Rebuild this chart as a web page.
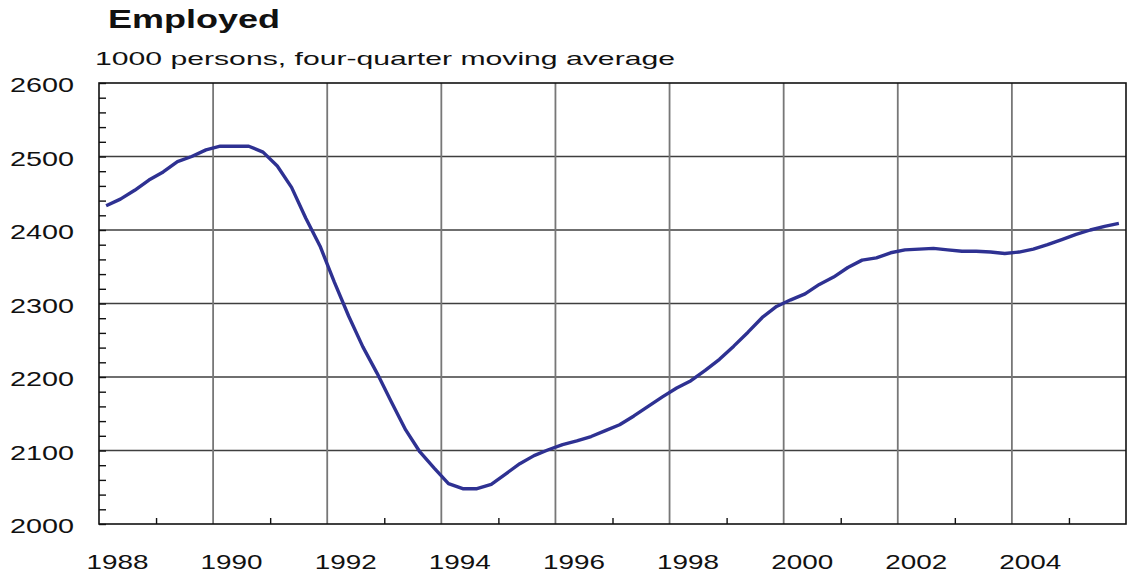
<!DOCTYPE html>
<html>
<head>
<meta charset="utf-8">
<script src="https://cdn.jsdelivr.net/npm/d3@7"></script>
<style>
  body { margin: 0; background: #fff; }
  text { font-family: "Liberation Sans", Arial, sans-serif; fill: #111; }
</style>
</head>
<body>
<script>
const width = 1130;
const height = 578;

// quarterly data, four-quarter moving average, 1988Q1 - 2005Q4
const startYear = 1988;
const employed = [
  2433, 2442, 2454, 2468, 2479, 2493, 2500, 2509,
  2514, 2514, 2514, 2506, 2487, 2458, 2416, 2378,
  2329, 2283, 2241, 2205, 2166, 2128, 2098, 2076,
  2055, 2048, 2048, 2054, 2068, 2082, 2093, 2101,
  2108, 2113, 2119, 2127, 2135, 2147, 2160, 2173,
  2185, 2195, 2209, 2224, 2242, 2261, 2281, 2296,
  2305, 2313, 2326, 2336, 2349, 2359, 2362, 2369,
  2373, 2374, 2375, 2373, 2371, 2371, 2370, 2368,
  2370, 2374, 2380, 2387, 2394, 2400, 2405, 2409
];
const yearTicks = [1988, 1990, 1992, 1994, 1996, 1998, 2000, 2002, 2004];
const valueTicks = [2000, 2100, 2200, 2300, 2400, 2500, 2600];

const title = "Employed";
const subtitle = "1000 persons, four-quarter moving average";

let margin = { top: 83, right: 4, bottom: 54, left: 99 };

let svg = d3
  .select("body")
  .append("svg")
  .attr("width", width)
  .attr("height", height);

let xScale = d3
  .scaleLinear()
  .domain([1988, 2006])
  .range([margin.left, width - margin.right]);

let yScale = d3
  .scaleLinear()
  .domain([2000, 2600])
  .range([height - margin.bottom, margin.top]);

// horizontal grid
svg
  .append("g")
  .selectAll("line")
  .data(valueTicks.slice(1, -1))
  .join("line")
  .attr("x1", xScale(1988))
  .attr("x2", xScale(2006))
  .attr("y1", (d) => yScale(d))
  .attr("y2", (d) => yScale(d))
  .attr("stroke", "#3f3f3f")
  .attr("stroke-width", 1.5);

// vertical grid
svg
  .append("g")
  .selectAll("line")
  .data(yearTicks.slice(1))
  .join("line")
  .attr("x1", (d) => xScale(d))
  .attr("x2", (d) => xScale(d))
  .attr("y1", yScale(2000))
  .attr("y2", yScale(2600))
  .attr("stroke", "#777")
  .attr("stroke-width", 1.8);

// minor ticks on left axis, every 20
let leftAxis = d3
  .axisRight(yScale)
  .tickValues(d3.range(2000, 2601, 20))
  .tickSize(7)
  .tickFormat("");

svg
  .append("g")
  .attr("transform", `translate(${margin.left}, 0)`)
  .call(leftAxis)
  .call((g) => g.select(".domain").remove())
  .call((g) => g.selectAll("line").attr("stroke", "#111").attr("stroke-width", 1.4));

// minor ticks on bottom axis, odd years
let bottomAxis = d3
  .axisTop(xScale)
  .tickValues(d3.range(1989, 2006, 2))
  .tickSize(6)
  .tickFormat("");

svg
  .append("g")
  .attr("transform", `translate(0, ${yScale(2000)})`)
  .call(bottomAxis)
  .call((g) => g.select(".domain").remove())
  .call((g) => g.selectAll("line").attr("stroke", "#111").attr("stroke-width", 1.4));

// frame
svg
  .append("rect")
  .attr("x", xScale(1988))
  .attr("y", yScale(2600))
  .attr("width", xScale(2006) - xScale(1988))
  .attr("height", yScale(2000) - yScale(2600))
  .attr("fill", "none")
  .attr("stroke", "#111")
  .attr("stroke-width", 1.6);

// the series
let line = d3
  .line()
  .x((d, i) => xScale(startYear + (i + 0.5) / 4))
  .y((d) => yScale(d));

svg
  .append("path")
  .datum(employed)
  .attr("d", line)
  .attr("fill", "none")
  .attr("stroke", "#2e3192")
  .attr("stroke-width", 3.4)
  .attr("stroke-linejoin", "round");

// y labels
svg
  .append("g")
  .selectAll("text")
  .data(valueTicks)
  .join("text")
  .attr("x", 74)
  .attr("y", (d) => yScale(d) + 9)
  .attr("text-anchor", "end")
  .attr("font-size", 21)
  .attr("textLength", 64)
  .attr("lengthAdjust", "spacingAndGlyphs")
  .text((d) => d);

// x labels
svg
  .append("g")
  .selectAll("text")
  .data(yearTicks)
  .join("text")
  .attr("x", (d) => xScale(d) + 18.5)
  .attr("y", 569)
  .attr("text-anchor", "middle")
  .attr("font-size", 21)
  .attr("textLength", 62)
  .attr("lengthAdjust", "spacingAndGlyphs")
  .text((d) => d);

// titles
svg
  .append("text")
  .attr("x", 108)
  .attr("y", 28)
  .attr("font-size", 25)
  .attr("font-weight", "bold")
  .attr("textLength", 172)
  .attr("lengthAdjust", "spacingAndGlyphs")
  .text(title);

svg
  .append("text")
  .attr("x", 95)
  .attr("y", 65)
  .attr("font-size", 19)
  .attr("textLength", 580)
  .attr("lengthAdjust", "spacingAndGlyphs")
  .text(subtitle);
</script>
</body>
</html>
